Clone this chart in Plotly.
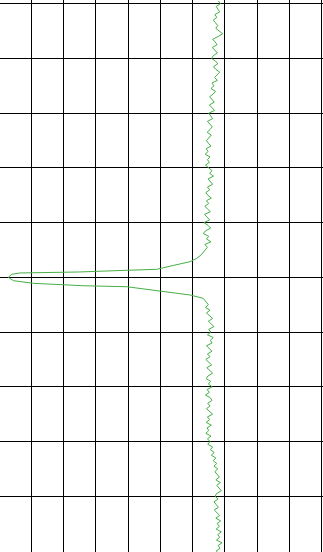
import plotly.graph_objects as go

# time axis (vertical, increasing downward) and signal (horizontal)
time_a = [-0.5, 0.0, 0.5, 1.0, 1.5, 2.0, 2.5, 3.0, 3.5, 4.0, 4.5, 5.0, 5.5, 6.0, 6.5, 7.0, 7.5, 8.0, 8.5, 9.0,
          9.5, 10.0, 10.5, 11.0, 11.5, 12.0, 12.5, 13.0, 13.5, 14.0, 14.5, 15.0, 15.5, 16.0, 16.5, 17.0, 17.5,
          18.0, 18.5, 19.0, 19.5, 20.0, 20.5, 21.0, 21.5, 22.0, 22.5, 23.0, 23.5, 24.0, 24.5, 25.0, 25.5, 26.0,
          26.5, 27.0, 27.5, 28.0, 28.5, 29.0, 29.5, 30.0, 30.5, 31.0, 31.5, 32.0, 32.5, 33.0, 33.5, 34.0, 34.5,
          35.0, 35.5, 36.0, 36.5, 37.0, 37.5, 38.0, 38.5, 39.0, 39.5, 40.0, 40.5, 41.0, 41.5, 42.0, 42.5, 43.0,
          43.5, 44.0, 44.5, 45.0]
signal_a = [68.0, 68.6, 67.3, 67.9, 68.4, 66.9, 67.5, 66.4, 67.1, 67.8, 67.2, 68.3, 69.3, 67.9, 66.2, 67.0, 67.6,
            66.1, 66.8, 67.7, 66.4, 65.9, 67.1, 67.8, 66.5, 67.2, 68.4, 67.6, 66.8, 67.7, 66.0, 66.6, 65.7, 67.1,
            66.4, 65.3, 66.1, 66.7, 65.2, 65.9, 66.8, 65.0, 65.6, 66.2, 64.6, 65.3, 66.1, 65.4, 64.5, 65.8, 65.1,
            64.3, 64.9, 65.7, 64.2, 64.8, 63.9, 65.4, 64.6, 65.2, 64.0, 64.9, 66.0, 65.3, 66.5, 64.8, 65.6, 66.2,
            64.6, 65.3, 64.1, 64.7, 65.8, 64.3, 65.0, 63.8, 64.6, 65.5, 63.7, 64.4, 65.3, 63.5, 64.8, 65.6, 64.0,
            63.3, 65.0, 64.3, 65.7, 63.8, 64.6, 63.9]

# peak region
time_peak = [45.92, 46.52, 47.14, 47.83, 48.53, 48.71, 49.02, 49.20, 49.44, 49.99, 50.61, 51.09, 51.53,
             51.71, 52.44, 53.22, 53.83, 54.5]
signal_peak = [62.6, 61.3, 59.2, 54.0, 48.9, 39.6, 24.6, 6.5, 4.0, 2.9, 4.5, 10.7, 26.1,
               39.6, 48.9, 59.2, 63.3, 64.4]

time_b = [55.0, 55.5, 56.0, 56.5, 57.0, 57.5, 58.0, 58.5, 59.0, 59.5, 60.0, 60.5, 61.0, 61.5, 62.0, 62.5, 63.0,
          63.5, 64.0, 64.5, 65.0, 65.5, 66.0, 66.5, 67.0, 67.5, 68.0, 68.5, 69.0, 69.5, 70.0, 70.5, 71.0, 71.5,
          72.0, 72.5, 73.0, 73.5, 74.0, 74.5, 75.0, 75.5, 76.0, 76.5, 77.0, 77.5, 78.0, 78.5, 79.0, 79.5, 80.0,
          80.5, 81.0, 81.5, 82.0, 82.5, 83.0, 83.5, 84.0, 84.5, 85.0, 85.5, 86.0, 86.5, 87.0, 87.5, 88.0, 88.5,
          89.0, 89.5, 90.0, 90.5, 91.0, 91.5, 92.0, 92.5, 93.0, 93.5, 94.0, 94.5, 95.0, 95.5, 96.0, 96.5, 97.0,
          97.5, 98.0, 98.5, 99.0, 99.5, 100.0, 100.5]
signal_b = [64.9, 64.0, 65.4, 64.3, 65.1, 66.2, 64.9, 65.7, 66.6, 65.0, 65.6, 64.6, 66.4, 65.5, 66.0, 64.3, 65.2,
            66.0, 64.6, 65.4, 64.1, 65.0, 65.9, 64.4, 65.3, 66.2, 64.8, 64.2, 65.6, 64.9, 66.1, 64.5, 65.2, 64.0,
            65.5, 66.0, 64.7, 65.4, 64.3, 65.1, 66.2, 64.6, 65.3, 64.2, 65.8, 64.5, 65.0, 64.1, 65.7, 64.6, 65.4,
            64.7, 66.2, 65.5, 66.7, 65.8, 67.2, 66.4, 67.5, 66.6, 67.8, 66.9, 67.6, 68.3, 67.2, 68.6, 67.5, 68.2,
            68.9, 67.4, 67.0, 67.9, 66.6, 67.3, 68.0, 66.7, 67.6, 68.4, 67.2, 68.7, 67.6, 68.3, 67.3, 68.9, 67.8,
            68.4, 67.4, 69.1, 67.9, 68.5, 67.3, 68.2]

time_all = time_a + time_peak + time_b
signal_all = signal_a + signal_peak + signal_b

fig = go.Figure()
fig.add_trace(go.Scatter(
    x=signal_all, y=time_all, mode="lines",
    line=dict(color="rgb(70,175,70)", width=1),
    hoverinfo="skip", showlegend=False,
))

fig.update_layout(
    width=323, height=552,
    margin=dict(l=0, r=0, t=0, b=0),
    paper_bgcolor="white", plot_bgcolor="white",
    showlegend=False,
    xaxis=dict(range=[0.335, 100.4], tick0=0, dtick=10, showgrid=True, gridcolor="#000000",
               gridwidth=1, zeroline=False, showticklabels=False, ticks="", showline=False),
    yaxis=dict(range=[100.18, -0.676], tick0=0, dtick=10, showgrid=True, gridcolor="#000000",
               gridwidth=1, zeroline=False, showticklabels=False, ticks="", showline=False),
)

fig.write_html(
    "out.html",
    config={"displayModeBar": False},
    post_script="document.body.style.margin='0';document.body.style.overflow='hidden';",
)
